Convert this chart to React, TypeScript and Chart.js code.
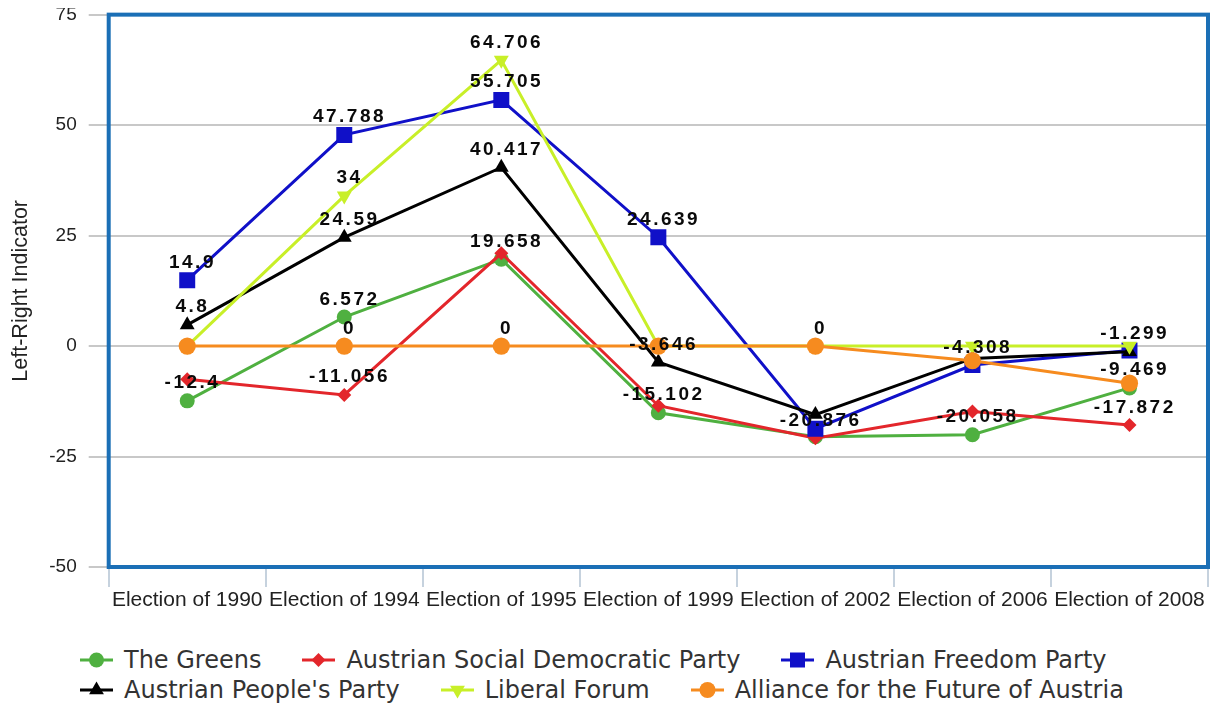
import React, { useEffect, useRef } from "react";
import { Chart, registerables } from "chart.js";

Chart.register(...registerables);

const categories = [
  "Election of 1990",
  "Election of 1994",
  "Election of 1995",
  "Election of 1999",
  "Election of 2002",
  "Election of 2006",
  "Election of 2008",
];

const seriesNames = [
  "The Greens",
  "Austrian Social Democratic Party",
  "Austrian Freedom Party",
  "Austrian People's Party",
  "Liberal Forum",
  "Alliance for the Future of Austria",
];

const greens = [-12.4, 6.572, 19.658, -15.102, -20.5, -20.058, -9.469];
const socialDemocrats = [-7.5, -11.056, 21.0, -13.5, -20.876, -14.8, -17.872];
const freedomParty = [14.9, 47.788, 55.705, 24.639, -18.7, -4.308, -1.0];
const peoplesParty = [4.8, 24.59, 40.417, -3.646, -15.5, -2.8, -1.299];
const liberalForum = [0, 34, 64.706, 0, 0, 0, 0];
const allianceFuture = [0, 0, 0, 0, 0, -3.3, -8.4];

// which value labels are visible (others are hidden by overlap in the original)
const greensShown = [true, true, true, true, false, true, true];
const socialDemocratsShown = [false, true, false, false, true, false, true];
const freedomPartyShown = [true, true, true, true, false, true, false];
const peoplesPartyShown = [true, true, true, true, false, false, true];
const liberalForumShown = [false, true, true, false, false, false, false];
const allianceFutureShown = [false, true, true, false, true, false, false];

const yTicks = [-50, -25, 0, 25, 50, 75];

const COLORS = ["#4fb040", "#e3262b", "#1010c8", "#000000", "#c8ef28", "#f68b1f"];

const seriesValues = [greens, socialDemocrats, freedomParty, peoplesParty, liberalForum, allianceFuture];
const seriesShown = [greensShown, socialDemocratsShown, freedomPartyShown, peoplesPartyShown, liberalForumShown, allianceFutureShown];

const pointStyles: any[] = ["circle", "rectRot", "rect", "triangle", "triangle", "circle"];
const pointRotations = [0, 0, 0, 0, 180, 0];
const pointRadii = [7.5, 7, 11.3, 8.6, 8.6, 8.6];
const drawOrder = [5, 4, 3, 2, 1, 0];

const framePlugin = {
  id: "frame",
  beforeDatasetsDraw(chart: any) {
    const { ctx, chartArea } = chart;
    ctx.save();
    ctx.strokeStyle = "#1b6fb6";
    ctx.lineWidth = 4;
    ctx.strokeRect(chartArea.left, chartArea.top, chartArea.right - chartArea.left, chartArea.bottom - chartArea.top);
    ctx.restore();
  },
};

const labelPlugin = {
  id: "valueLabels",
  afterDatasetsDraw(chart: any) {
    const { ctx } = chart;
    ctx.save();
    ctx.font = "bold 19px 'Liberation Sans', Arial, sans-serif";
    (ctx as any).letterSpacing = "2.5px";
    ctx.fillStyle = "#0a0a0a";
    ctx.textAlign = "left";
    ctx.textBaseline = "alphabetic";
    chart.data.datasets.forEach((ds: any, i: number) => {
      const meta = chart.getDatasetMeta(i);
      meta.data.forEach((pt: any, j: number) => {
        if (!seriesShown[i][j]) return;
        const text = String(ds.data[j]);
        const w = ctx.measureText(text).width - 2.5;
        ctx.fillText(text, pt.x + 4 - w / 2, pt.y - 12.5);
      });
    });
    ctx.restore();
  },
};

function LegendMarker({ index }: { index: number }) {
  const c = COLORS[index];
  const cx = 16.5;
  const cy = 10;
  let shape: React.ReactNode = null;
  if (index === 0 || index === 5) shape = <circle cx={cx} cy={cy} r={index === 5 ? 8 : 7.5} fill={c} />;
  if (index === 1)
    shape = <polygon points={`${cx - 7},${cy} ${cx},${cy - 7} ${cx + 7},${cy} ${cx},${cy + 7}`} fill={c} />;
  if (index === 2) shape = <rect x={cx - 7.5} y={cy - 7.5} width={15} height={15} fill={c} />;
  if (index === 3)
    shape = <polygon points={`${cx},${cy - 8.5} ${cx + 7.4},${cy + 4.3} ${cx - 7.4},${cy + 4.3}`} fill={c} />;
  if (index === 4)
    shape = <polygon points={`${cx},${cy + 8.5} ${cx + 7.4},${cy - 4.3} ${cx - 7.4},${cy - 4.3}`} fill={c} />;
  return (
    <svg width={33} height={20} style={{ display: "block" }}>
      <line x1={0} y1={cy} x2={33} y2={cy} stroke={c} strokeWidth={3} />
      {shape}
    </svg>
  );
}

function LegendRow({ items }: { items: number[] }) {
  return (
    <div style={{ display: "flex", alignItems: "center", height: 30 }}>
      {items.map((i) => (
        <div key={i} style={{ display: "flex", alignItems: "center", marginRight: 41 }}>
          <LegendMarker index={i} />
          <span style={{ marginLeft: 11, whiteSpace: "nowrap" }}>{seriesNames[i]}</span>
        </div>
      ))}
    </div>
  );
}

export default function App() {
  const ref = useRef<HTMLCanvasElement>(null);

  useEffect(() => {
    if (!ref.current) return;
    const chart = new Chart(ref.current, {
      type: "line",
      data: {
        labels: categories,
        datasets: seriesNames.map((name, i) => ({
          label: name,
          data: seriesValues[i],
          borderColor: COLORS[i],
          backgroundColor: COLORS[i],
          borderWidth: 3,
          tension: 0,
          fill: false,
          pointStyle: pointStyles[i],
          pointRotation: pointRotations[i],
          pointRadius: pointRadii[i],
          pointBorderWidth: 0,
          pointBackgroundColor: COLORS[i],
          order: drawOrder[i],
        })),
      },
      options: {
        animation: false,
        responsive: true,
        maintainAspectRatio: false,
        layout: { autoPadding: false, padding: { top: 0, right: 3, left: 0, bottom: 0 } },
        plugins: {
          legend: { display: false },
          tooltip: { enabled: false },
        },
        scales: {
          x: {
            type: "category",
            offset: true,
            grid: {
              offset: true,
              drawOnChartArea: false,
              drawTicks: true,
              tickLength: 20,
              color: "#c6d2de",
              lineWidth: 2,
            },
            border: { display: false },
            ticks: {
              font: { family: "'Liberation Sans', Arial, sans-serif", size: 21 },
              color: "#222222",
              maxRotation: 0,
              minRotation: 0,
              autoSkip: false,
              padding: 1,
            },
            afterFit: (s: any) => {
              s.height = 61;
            },
          },
          y: {
            min: yTicks[0],
            max: yTicks[yTicks.length - 1],
            afterBuildTicks: (s: any) => {
              s.ticks = yTicks.map((v) => ({ value: v }));
            },
            ticks: {
              font: { family: "'Liberation Sans', Arial, sans-serif", size: 19, lineHeight: 0.7 },
              color: "#222222",
              padding: 12,
            },
            grid: { color: "#c8c8c8", lineWidth: 2, tickLength: 20 },
            border: { display: false },
            title: {
              display: true,
              text: "Left-Right Indicator",
              font: { family: "'Liberation Sans', Arial, sans-serif", size: 21.5 },
              color: "#222222",
              padding: 0,
            },
            afterFit: (s: any) => {
              s.width = 100.7;
            },
          },
        },
      },
      plugins: [framePlugin, labelPlugin],
    });
    return () => chart.destroy();
  }, []);

  return (
    <div>
      <div style={{ position: "relative", width: 1203, height: 632, marginTop: -11.65 }}>
        <canvas ref={ref} style={{ display: "block" }} />
      </div>
      <div
        style={{
          marginTop: 16.65,
          paddingLeft: 72,
          fontFamily: "'DejaVu Sans', Verdana, sans-serif",
          fontSize: 24,
          color: "#333333",
        }}
      >
        <LegendRow items={[0, 1, 2]} />
        <LegendRow items={[3, 4, 5]} />
      </div>
    </div>
  );
}
